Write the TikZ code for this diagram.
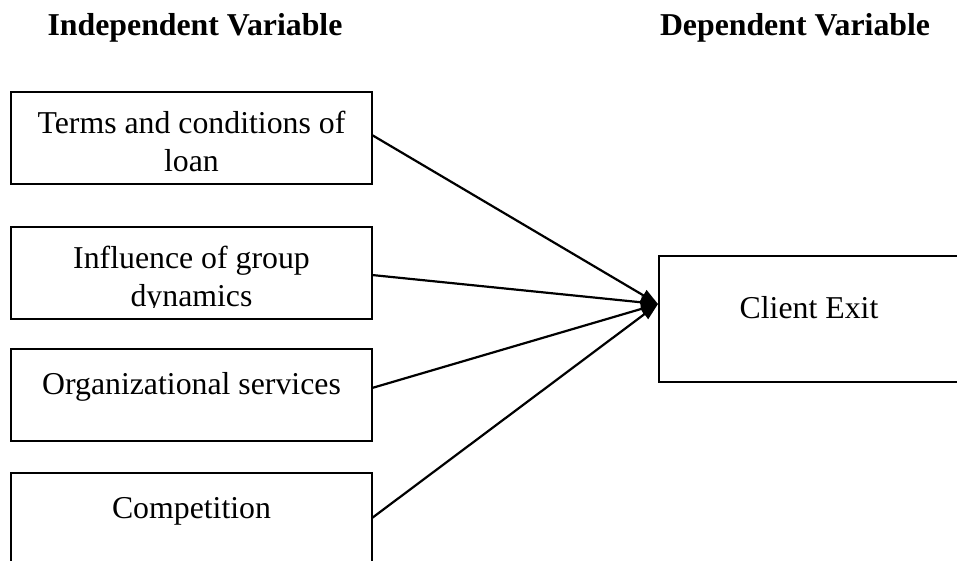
\documentclass[tikz,border=0pt]{standalone}
\usepackage{fontspec}
\setmainfont{Liberation Serif}
\usetikzlibrary{arrows.meta}
\begin{document}
\begin{tikzpicture}[x=1pt,y=-1pt,
  box/.style={draw, line width=2.2pt, inner sep=0pt, outer sep=0pt, anchor=north west},
  txt/.style={anchor=base, inner sep=0pt, font=\fontsize{31.8}{38}\selectfont},
  head/.style={anchor=base, inner sep=0pt, font=\fontsize{31.8}{38}\selectfont\bfseries},
  conn/.style={line width=2.2pt, -{Triangle[length=17pt,width=12pt]}}]
\useasboundingbox (0,0) rectangle (957,560);
\clip (0,0) rectangle (957,560);
% headings
\node[head] (h1) at (195,35) {Independent Variable};
\node[head] (h2) at (795,35) {Dependent Variable};
% boxes
\node[box, minimum width=361pt, minimum height=92pt] (b1) at (11,92) {};
\node[box, minimum width=361pt, minimum height=92pt] (b2) at (11,227) {};
\node[box, minimum width=361pt, minimum height=92pt] (b3) at (11,349) {};
\node[box, minimum width=361pt, minimum height=92pt] (b4) at (11,473) {};
\node[box, minimum width=300pt, minimum height=126pt] (dv) at (659,256) {};
% texts
\node[txt] (t1a) at (191.5,133) {Terms and conditions of};
\node[txt] (t1b) at (191.5,171) {loan};
\node[txt] (t2a) at (191.5,268) {Influence of group};
\begin{scope}
  \clip (12,228) rectangle (371,307);
  \node[txt] (t2b) at (191.5,306) {dynamics};
\end{scope}
\node[txt] (t3) at (191.5,394) {Organizational services};
\node[txt] (t4) at (191.5,518) {Competition};
\node[txt] (tc) at (809,318) {Client Exit};
% connectors
\coordinate (s1) at (372,135);
\coordinate (s2) at (372,275);
\coordinate (s3) at (372,388);
\coordinate (s4) at (372,518);
\coordinate (tip) at (658,304);
\draw[conn] (s1) -- (tip);
\draw[conn] (s2) -- (tip);
\draw[conn] (s3) -- (tip);
\draw[conn] (s4) -- (tip);
\end{tikzpicture}
\end{document}
